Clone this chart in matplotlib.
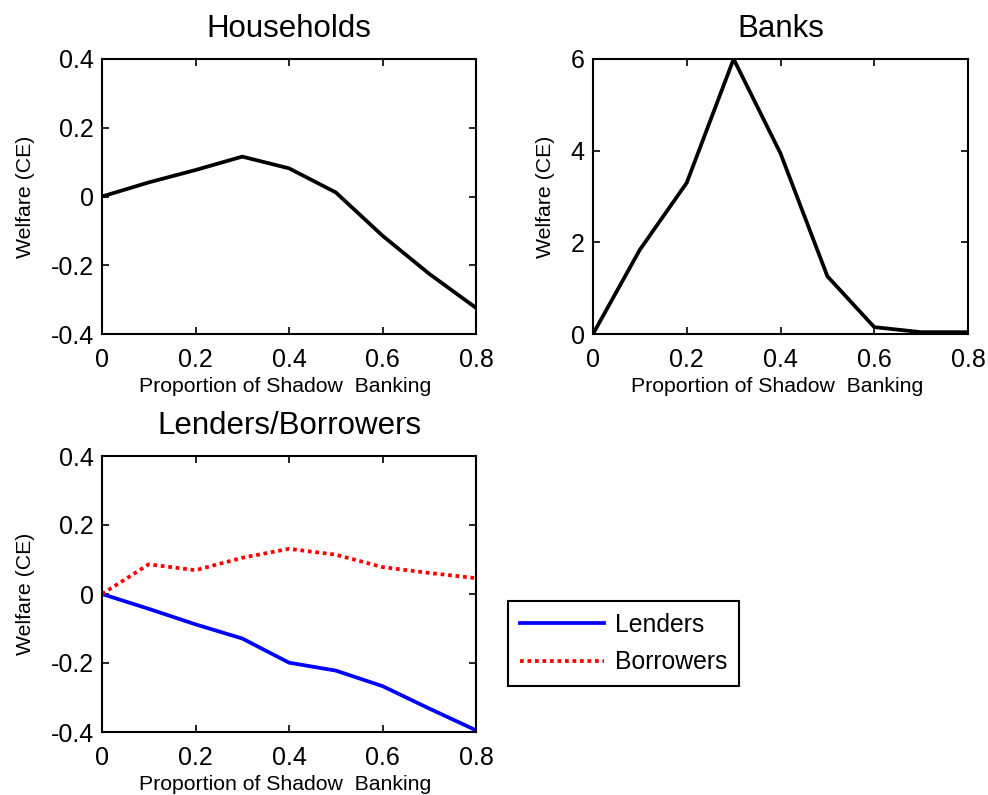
import numpy as np
import matplotlib
matplotlib.use("Agg")
import matplotlib.pyplot as plt
from matplotlib.ticker import FuncFormatter

plt.rcParams['font.family'] = ['Liberation Sans', 'DejaVu Sans']
plt.rcParams['axes.unicode_minus'] = False

# ---------------------------------------------------------------
# data
# ---------------------------------------------------------------
shadow_share = [0.0, 0.1, 0.2, 0.3, 0.4, 0.5, 0.6, 0.7, 0.8]
households = [0.0, 0.041, 0.077, 0.116, 0.082, 0.012, -0.114, -0.225, -0.324]
banks = [0.0, 1.84, 3.30, 6.0, 3.94, 1.26, 0.15, 0.04, 0.04]
lenders = [0.0, -0.043, -0.088, -0.129, -0.199, -0.222, -0.267, -0.332, -0.395]
borrowers = [0.0, 0.086, 0.069, 0.105, 0.131, 0.114, 0.078, 0.061, 0.046]

x_ticks = [0, 0.2, 0.4, 0.6, 0.8]
welfare_ticks = [-0.4, -0.2, 0, 0.2, 0.4]
bank_ticks = [0, 2, 4, 6]

W, H = 988, 795
fig = plt.figure(figsize=(W / 100, H / 100), dpi=100)


def px_axes(left, top, right, bottom):
    return fig.add_axes([left / W, 1 - bottom / H, (right - left) / W, (bottom - top) / H])


fmt = FuncFormatter(lambda v, p: f"{v:g}")


def style(ax, title, yticks, ylim):
    ax.set_xlim(0, 0.8)
    ax.set_ylim(*ylim)
    ax.set_xticks(x_ticks)
    ax.set_yticks(yticks)
    ax.xaxis.set_major_formatter(fmt)
    ax.yaxis.set_major_formatter(fmt)
    ax.tick_params(direction='in', top=True, right=True, length=5, width=1.2,
                   labelsize=18)
    ax.tick_params(axis='x', pad=10)
    ax.tick_params(axis='y', pad=6)
    for s in ax.spines.values():
        s.set_linewidth(1.5)
    ax.set_title(title, fontsize=22.5, pad=16)
    ax.set_xlabel('Proportion of Shadow  Banking', fontsize=15.3)
    ax.set_ylabel('Welfare (CE)', fontsize=15.3, labelpad=11)
    ax.xaxis.set_label_coords(0.49, -0.155)


# ==============================================================
# 1. Households
# ==============================================================
ax1 = px_axes(102, 59, 476, 334)
ax1.plot(shadow_share, households, color='black', lw=2.7)
style(ax1, 'Households', welfare_ticks, (-0.4, 0.4))

# ==============================================================
# 2. Banks
# ==============================================================
ax2 = px_axes(593, 59, 968, 334)
ax2.plot(shadow_share, banks, color='black', lw=2.7)
style(ax2, 'Banks', bank_ticks, (0, 6))

# ==============================================================
# 3. Lenders / Borrowers
# ==============================================================
ax3 = px_axes(102, 456, 476, 732)
ax3.plot(shadow_share, lenders, color='blue', lw=2.7, label='Lenders')
ax3.plot(shadow_share, borrowers, color='red', lw=2.7, ls=(0, (1, 1)),
         label='Borrowers')
style(ax3, 'Lenders/Borrowers', welfare_ticks, (-0.4, 0.4))

leg = ax3.legend(loc='upper left', bbox_to_anchor=(508 / W, 1 - 601 / H),
                 bbox_transform=fig.transFigure, borderaxespad=0,
                 fontsize=17.8, fancybox=False, framealpha=1, edgecolor='black',
                 handlelength=3.4, handletextpad=0.45, borderpad=0.47,
                 labelspacing=0.55)
leg.get_frame().set_linewidth(1.5)

fig.savefig('out.png', dpi=100)
